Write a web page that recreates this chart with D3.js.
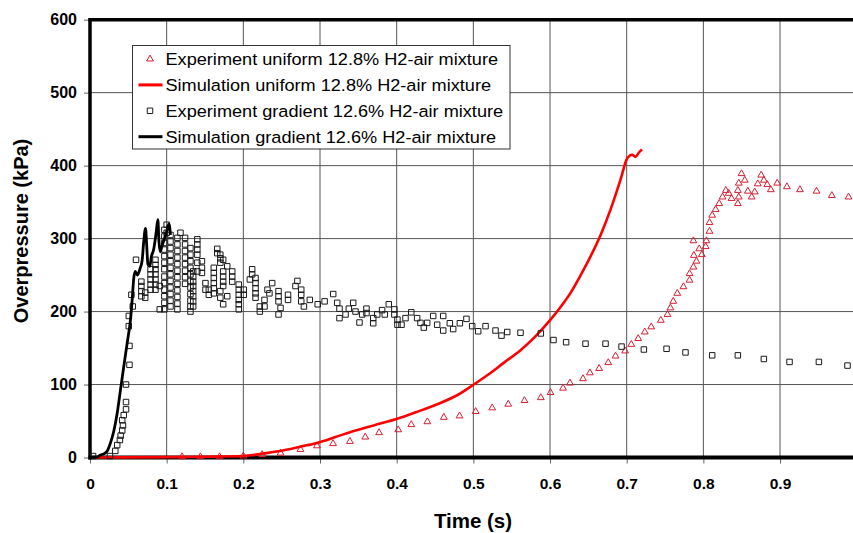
<!DOCTYPE html>
<html>
<head>
<meta charset="utf-8">
<script src="https://cdn.jsdelivr.net/npm/d3@7"></script>
<style>
  body { margin: 0; background: #fff; }
  svg { display: block; font-family: "Liberation Sans", Arial, sans-serif; }
</style>
</head>
<body>
<svg width="853" height="533"></svg>
<script>
// values: [time (s), overpressure (kPa)]
var expUniform = [
  [0.120, 1], [0.144, 1], [0.169, 1], [0.200, 2], [0.2246, 4], [0.2485, 6], [0.2745, 11],
  [0.296, 16], [0.317, 19], [0.339, 22], [0.359, 28], [0.377, 34], [0.402, 38], [0.419, 45],
  [0.440, 49], [0.4615, 55], [0.482, 57], [0.503, 63], [0.5246, 68], [0.5455, 73], [0.5667, 78],
  [0.588, 82], [0.6006, 89], [0.617, 95], [0.626, 102], [0.643, 108], [0.652, 116], [0.664, 122],
  [0.676, 130], [0.6854, 139], [0.698, 146], [0.706, 155], [0.715, 163], [0.7236, 172],
  [0.732, 179], [0.7445, 188], [0.7532, 196], [0.757, 205], [0.7607, 214], [0.766, 225],
  [0.774, 234], [0.782, 243], [0.782, 252], [0.787, 261], [0.791, 269], [0.7876, 277],
  [0.7946, 286], [0.787, 297], [0.798, 278], [0.803, 289], [0.804, 297], [0.808, 310],
  [0.808, 322], [0.8115, 332], [0.816, 340], [0.8207, 348], [0.825, 357], [0.8293, 366],
  [0.833, 362], [0.8367, 355], [0.845, 348], [0.8462, 357], [0.845, 366], [0.8462, 376],
  [0.8497, 389], [0.854, 380], [0.858, 365], [0.863, 357], [0.867, 364], [0.871, 375],
  [0.8754, 387], [0.8789, 380], [0.8833, 374], [0.888, 367], [0.8963, 376], [0.909, 371],
  [0.926, 367], [0.9476, 365], [0.9676, 359], [0.9893, 357]
];

var simUniform = [
  [0, 0], [0.1, 0.5], [0.15, 1], [0.2, 2], [0.209, 3], [0.23, 6], [0.253, 10], [0.275, 15],
  [0.296, 20], [0.32, 28], [0.34, 35], [0.37, 44], [0.4007, 53], [0.425, 62], [0.453, 73],
  [0.48, 86], [0.5006, 100], [0.52, 114], [0.54, 130], [0.5615, 147], [0.58, 165], [0.6006, 189],
  [0.615, 208], [0.627, 226], [0.64, 250], [0.653, 276], [0.666, 305], [0.679, 340],
  [0.692, 381], [0.7007, 410], [0.707, 415], [0.7115, 412], [0.716, 418], [0.72, 422]
];

var expGradient = [
  [0.004, 2], [0.026, 2], [0.033, 9], [0.0355, 17], [0.039, 24], [0.040, 30], [0.042, 37],
  [0.043, 44], [0.042, 51], [0.044, 58], [0.047, 66], [0.047, 76], [0.047, 100], [0.0515, 127],
  [0.0515, 153], [0.0506, 180], [0.0506, 194], [0.0558, 207], [0.054, 223], [0.060, 271],
  [0.067, 241], [0.067, 235], [0.067, 228], [0.067, 221],
  [0.072, 226], [0.072, 219],
  [0.079, 258], [0.079, 251], [0.079, 244], [0.079, 237], [0.079, 230],
  [0.0854, 271], [0.0854, 264], [0.0854, 258], [0.0854, 251], [0.0854, 244], [0.0854, 237], [0.0854, 230],
  [0.091, 235], [0.091, 203],
  [0.097, 312], [0.097, 303], [0.097, 294], [0.097, 285], [0.097, 276], [0.097, 267], [0.097, 258],
  [0.097, 248], [0.097, 239], [0.097, 230], [0.097, 221], [0.097, 212], [0.097, 203],
  [0.100, 319], [0.100, 308],
  [0.105, 305], [0.105, 296], [0.105, 287], [0.105, 278], [0.105, 269], [0.105, 260], [0.105, 251],
  [0.105, 242], [0.105, 233], [0.105, 224], [0.105, 215], [0.105, 207],
  [0.114, 301], [0.114, 292], [0.114, 283], [0.114, 274], [0.114, 265], [0.114, 256], [0.114, 247],
  [0.114, 238], [0.114, 229], [0.114, 220], [0.114, 211], [0.114, 203],
  [0.118, 308],
  [0.124, 301], [0.124, 292], [0.124, 283], [0.124, 274], [0.124, 265], [0.124, 256], [0.124, 247], [0.124, 238],
  [0.131, 287], [0.131, 278], [0.131, 269], [0.131, 260], [0.131, 251], [0.131, 242], [0.131, 233],
  [0.131, 224], [0.131, 215], [0.131, 207], [0.131, 200],
  [0.1346, 255], [0.1346, 248], [0.1346, 241], [0.1346, 235], [0.1346, 228], [0.1346, 221], [0.1346, 214], [0.1346, 207],
  [0.140, 299], [0.140, 292], [0.140, 285], [0.140, 278], [0.140, 267], [0.140, 255],
  [0.146, 269], [0.146, 260], [0.146, 253],
  [0.1506, 239], [0.1506, 230], [0.155, 230], [0.155, 223],
  [0.1615, 260], [0.1615, 253], [0.1615, 246], [0.1615, 239], [0.1615, 232], [0.1615, 225],
  [0.166, 286], [0.166, 280],
  [0.170, 278], [0.170, 273], [0.170, 267], [0.170, 228], [0.170, 219],
  [0.1737, 271], [0.1737, 255], [0.1737, 248], [0.1737, 241], [0.1737, 235], [0.1737, 210],
  [0.179, 262], [0.179, 221],
  [0.1855, 255], [0.1855, 248], [0.1855, 241],
  [0.194, 237], [0.194, 230], [0.194, 223], [0.194, 216], [0.194, 210], [0.194, 203],
  [0.2006, 230], [0.2006, 223], [0.2085, 244], [0.2115, 258], [0.2115, 251],
  [0.2159, 246], [0.2159, 239], [0.2159, 232], [0.2159, 225], [0.2159, 219],
  [0.2215, 207], [0.2215, 200], [0.2276, 216], [0.2276, 207],
  [0.2315, 230], [0.234, 225], [0.2376, 239],
  [0.2459, 228], [0.2459, 221], [0.2459, 214], [0.2459, 196], [0.2485, 205],
  [0.2583, 216], [0.2583, 223], [0.268, 235], [0.2705, 242],
  [0.2755, 230], [0.2755, 223], [0.2755, 214], [0.279, 207], [0.2867, 216], [0.297, 210],
  [0.306, 214], [0.3172, 224], [0.3224, 212], [0.3254, 204], [0.3254, 191], [0.3333, 196],
  [0.3376, 204], [0.3433, 212], [0.3463, 200], [0.3515, 185], [0.355, 196], [0.3606, 204],
  [0.3606, 198], [0.3694, 191], [0.3694, 184], [0.3746, 196], [0.381, 202], [0.3845, 196],
  [0.3897, 210], [0.397, 203], [0.397, 196], [0.401, 189], [0.401, 182], [0.4063, 182],
  [0.4115, 191], [0.419, 199], [0.4267, 191], [0.431, 184.5], [0.4354, 178], [0.4398, 184.5],
  [0.4476, 194], [0.4528, 182], [0.4607, 194], [0.4607, 174], [0.4693, 184], [0.4737, 176],
  [0.4824, 184], [0.491, 190], [0.4985, 180], [0.5063, 173], [0.5159, 180], [0.5289, 174],
  [0.5367, 167], [0.5442, 172], [0.5615, 171], [0.588, 170], [0.6045, 161], [0.621, 158],
  [0.6463, 156], [0.6724, 156], [0.6933, 152], [0.7224, 148], [0.752, 149], [0.7767, 144],
  [0.8115, 140], [0.845, 140], [0.8789, 135], [0.9124, 131], [0.9507, 131], [0.988, 126]
];

var simGradient = [
  [0, 0], [0.005, 0.5], [0.01, 1], [0.013, 3], [0.018, 5], [0.0225, 9], [0.0267, 20],
  [0.031, 36], [0.0355, 61], [0.0398, 93], [0.0441, 125], [0.0485, 157], [0.0528, 189],
  [0.055, 216], [0.057, 245], [0.059, 255], [0.062, 250], [0.065, 258], [0.068, 270],
  [0.070, 295], [0.0724, 314], [0.074, 290], [0.0755, 265], [0.078, 262], [0.080, 275],
  [0.083, 285], [0.0865, 310], [0.0885, 326], [0.090, 295], [0.0915, 282], [0.094, 290],
  [0.097, 300], [0.100, 310], [0.103, 320], [0.105, 305]
];

var xTicks = [0, 0.1, 0.2, 0.3, 0.4, 0.5, 0.6, 0.7, 0.8, 0.9];
var yTicks = [0, 100, 200, 300, 400, 500, 600];
var legendLabels = [
  "Experiment uniform 12.8% H2-air mixture",
  "Simulation uniform 12.8% H2-air mixture",
  "Experiment gradient 12.6% H2-air mixture",
  "Simulation gradient 12.6% H2-air mixture"
];

var svg = d3.select("svg");

var x = d3.scaleLinear().domain([0, 1]).range([90, 856.7]);
var y = d3.scaleLinear().domain([0, 600]).range([457.5, 19.7]);

// grid
svg.append("g").selectAll("line")
  .data(xTicks.filter(d => d > 0))
  .enter().append("line")
    .attr("x1", d => x(d)).attr("x2", d => x(d))
    .attr("y1", y(600)).attr("y2", y(0))
    .attr("stroke", "#555").attr("stroke-width", 1);

svg.append("g").selectAll("line")
  .data(yTicks.filter(d => d > 0 && d < 600))
  .enter().append("line")
    .attr("x1", x(0)).attr("x2", 853)
    .attr("y1", d => y(d)).attr("y2", d => y(d))
    .attr("stroke", "#555").attr("stroke-width", 1);

// axes
var yAxis = svg.append("g")
    .attr("transform", "translate(" + x(0) + ",0)")
    .call(d3.axisLeft(y).tickValues(yTicks).tickSize(6).tickPadding(7).tickFormat(d => d));

var xAxis = svg.append("g")
    .attr("transform", "translate(0," + y(0) + ")")
    .call(d3.axisBottom(x).tickValues(xTicks).tickSize(6).tickPadding(14).tickFormat(d => d));

[yAxis, xAxis].forEach(function(g) {
  g.select(".domain").remove();
  g.selectAll(".tick line").attr("stroke", "#666");
  g.selectAll(".tick text")
    .attr("fill", "#000")
    .style("font-family", "'Liberation Sans', Arial, sans-serif")
    .style("font-size", "15.5px")
    .style("font-weight", "bold");
});
yAxis.selectAll(".tick text").style("font-size", "16px");

// plot frame: left, top, bottom
svg.append("line")
    .attr("x1", x(0)).attr("x2", x(0)).attr("y1", y(600) - 1.5).attr("y2", y(0) + 2)
    .attr("stroke", "#000").attr("stroke-width", 3.5);
svg.append("line")
    .attr("x1", x(0) - 1.5).attr("x2", 853).attr("y1", y(600)).attr("y2", y(600))
    .attr("stroke", "#000").attr("stroke-width", 3.5);
svg.append("line")
    .attr("x1", x(0) - 1.5).attr("x2", 853).attr("y1", y(0)).attr("y2", y(0))
    .attr("stroke", "#000").attr("stroke-width", 4);

var line = d3.line()
    .curve(d3.curveMonotoneX)
    .x(d => x(d[0]))
    .y(d => y(d[1]));

var tri = d3.symbol().type(d3.symbolTriangle).size(20);
var sq = d3.symbol().type(d3.symbolSquare).size(30);

// series, drawn in legend order
svg.append("g").selectAll("path")
  .data(expUniform)
  .enter().append("path")
    .attr("d", tri)
    .attr("transform", d => "translate(" + x(d[0]) + "," + y(d[1]) + ")")
    .attr("fill", "none")
    .attr("stroke", "#d81e32")
    .attr("stroke-width", 1);

svg.append("path")
    .datum(simUniform)
    .attr("d", line)
    .attr("fill", "none")
    .attr("stroke", "#ff0000")
    .attr("stroke-width", 2.6);

svg.append("g").selectAll("path")
  .data(expGradient)
  .enter().append("path")
    .attr("d", sq)
    .attr("transform", d => "translate(" + x(d[0]) + "," + y(d[1]) + ")")
    .attr("fill", "none")
    .attr("stroke", "#1a1a1a")
    .attr("stroke-width", 1);

svg.append("path")
    .datum(simGradient)
    .attr("d", line)
    .attr("fill", "none")
    .attr("stroke", "#000")
    .attr("stroke-width", 2.8)
    .attr("stroke-linejoin", "round");

// legend
var legend = svg.append("g");

legend.append("rect")
    .attr("x", 132.5).attr("y", 45.5)
    .attr("width", 377.5).attr("height", 103.5)
    .attr("fill", "#fff")
    .attr("stroke", "#333")
    .attr("stroke-width", 1);

var row = legend.selectAll(".row")
  .data(legendLabels)
  .enter().append("g")
    .attr("class", "row")
    .attr("transform", (d, i) => "translate(0," + (65 + i * 25.9) + ")");

row.append("text")
    .attr("transform", "translate(165.5,0) scale(1.1,1)")
    .style("font-size", "16.5px")
    .text(d => d);

row.filter((d, i) => i === 0).append("path")
    .attr("d", tri)
    .attr("transform", "translate(150,-6)")
    .attr("fill", "none").attr("stroke", "#d81e32");

row.filter((d, i) => i === 2).append("path")
    .attr("d", sq)
    .attr("transform", "translate(150,-6)")
    .attr("fill", "none").attr("stroke", "#1a1a1a");

row.filter((d, i) => i === 1 || i === 3).append("line")
    .attr("x1", 138.5).attr("x2", 162.5)
    .attr("y1", -6).attr("y2", -6)
    .attr("stroke", (d, i) => i === 0 ? "#ff0000" : "#000")
    .attr("stroke-width", 3);

// axis titles
svg.append("text")
    .attr("x", 473).attr("y", 527.5)
    .attr("text-anchor", "middle")
    .style("font-size", "20.5px").style("font-weight", "bold")
    .text("Time (s)");

svg.append("text")
    .attr("transform", "translate(27.6,231) rotate(-90)")
    .attr("text-anchor", "middle")
    .style("font-size", "20px").style("font-weight", "bold")
    .text("Overpressure (kPa)");
</script>
</body>
</html>
